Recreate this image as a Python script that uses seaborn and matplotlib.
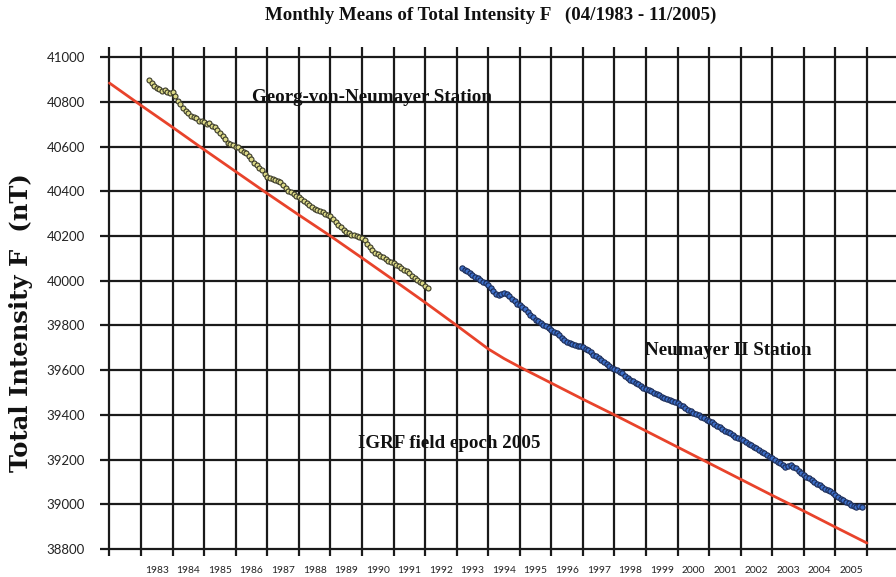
import numpy as np
import pandas as pd
import matplotlib
matplotlib.use("Agg")
import matplotlib.pyplot as plt
import seaborn as sns

# ---------------- data ----------------
# Georg-von-Neumayer Station, monthly means from 04/1983 to 02/1992 (nT)
gvn_start_year, gvn_start_month = 1983, 4
gvn_values = [
    40897, 40884, 40872, 40861, 40856, 40849, 40851, 40843, 40839,                # 1983
    40842, 40824, 40803, 40790, 40771, 40758, 40748, 40735, 40730, 40726, 40716, 40712,  # 1984
    40710, 40703, 40705, 40694, 40688, 40672, 40660, 40648, 40632, 40618, 40610, 40605,  # 1985
    40598, 40596, 40585, 40576, 40570, 40558, 40545, 40528, 40518, 40506, 40495, 40478,  # 1986
    40466, 40460, 40455, 40450, 40446, 40440, 40428, 40414, 40402, 40398, 40386, 40380,  # 1987
    40374, 40365, 40358, 40346, 40338, 40330, 40322, 40318, 40312, 40306, 40300, 40294,  # 1988
    40288, 40276, 40262, 40250, 40238, 40226, 40218, 40212, 40206, 40204, 40198, 40194,  # 1989
    40190, 40180, 40166, 40150, 40136, 40124, 40118, 40110, 40104, 40096, 40090, 40084,  # 1990
    40080, 40072, 40066, 40057, 40048, 40042, 40034, 40022, 40012, 40003, 39996, 39988,  # 1991
    39978, 39967,                                                                  # 1992
]

# Neumayer II Station, monthly means from 03/1993 to 11/2005 (nT)
nm2_start_year, nm2_start_month = 1993, 3
nm2_values = [
    40057, 40050, 40042, 40034, 40025, 40018, 40010, 40004, 39996, 39990,          # 1993
    39980, 39968, 39952, 39940, 39938, 39942, 39945, 39940, 39930, 39918, 39908, 39898,  # 1994
    39891, 39882, 39872, 39860, 39848, 39836, 39824, 39818, 39810, 39802, 39796, 39788,  # 1995
    39780, 39772, 39765, 39756, 39745, 39735, 39726, 39720, 39716, 39712, 39709, 39706,  # 1996
    39704, 39696, 39688, 39680, 39670, 39662, 39654, 39645, 39636, 39628, 39619, 39610,  # 1997
    39605, 39601, 39594, 39586, 39576, 39566, 39556, 39550, 39544, 39536, 39528, 39522,  # 1998
    39516, 39511, 39505, 39500, 39494, 39488, 39482, 39476, 39470, 39466, 39462, 39458,  # 1999
    39452, 39445, 39438, 39431, 39424, 39418, 39410, 39404, 39398, 39391, 39384, 39376,  # 2000
    39372, 39366, 39358, 39352, 39346, 39338, 39330, 39324, 39318, 39310, 39301, 39296,  # 2001
    39292, 39286, 39280, 39272, 39266, 39258, 39250, 39242, 39236, 39228, 39220, 39212,  # 2002
    39205, 39198, 39190, 39185, 39176, 39166, 39170, 39176, 39168, 39163, 39150, 39140,  # 2003
    39132, 39123, 39116, 39108, 39100, 39092, 39085, 39078, 39070, 39064, 39058, 39050,  # 2004
    39040, 39033, 39026, 39018, 39012, 39006, 38998, 38994, 38988, 38992, 38990,   # 2005
]

# IGRF field (epoch 2005) model values
igrf_years = [1982, 1983, 1984, 1985, 1986, 1987, 1988, 1989, 1990, 1991, 1992, 1993,
              1994, 1994.5, 1995, 1996, 1997, 1998, 1999, 2000, 2001, 2002, 2003, 2004,
              2005, 2006]
igrf_values = [40884, 40784, 40686, 40586, 40488, 40390, 40294, 40200, 40102, 40003,
               39903, 39800, 39695, 39652, 39614, 39542, 39470, 39400, 39328, 39256,
               39184, 39112, 39040, 38970, 38898, 38827]

year_labels = list(range(1983, 2006))
grid_years = list(range(1982, 2007))
y_ticks = list(range(38800, 41001, 200))

title = "Monthly Means of Total Intensity F   (04/1983 - 11/2005)"
ylabel = "Total Intensity F  (nT)"


def decimal_years(start_year, start_month, n):
    return [start_year + (start_month - 1 + i) / 12.0 for i in range(n)]


gvn = pd.DataFrame({"year": decimal_years(gvn_start_year, gvn_start_month, len(gvn_values)),
                    "F": gvn_values})
nm2 = pd.DataFrame({"year": decimal_years(nm2_start_year, nm2_start_month, len(nm2_values)),
                    "F": nm2_values})
igrf = pd.DataFrame({"year": igrf_years, "F": igrf_values})

# ---------------- plot ----------------
sns.set_style("white")
plt.rcParams["font.family"] = ["Liberation Serif", "DejaVu Serif"]

fig = plt.figure(figsize=(8.96, 5.77), dpi=100)
ax = fig.add_axes([0.1116, 0.0364, 0.8884, 0.8821])

sns.lineplot(data=igrf, x="year", y="F", ax=ax, color="#e8432b", linewidth=2.0,
             zorder=3, sort=False)
sns.lineplot(data=gvn, x="year", y="F", ax=ax, color="#2b2b22", linewidth=1.0,
             marker="o", markersize=3.6, markerfacecolor="#dcd987",
             markeredgecolor="#3a3a28", markeredgewidth=0.8, zorder=4, sort=False)
sns.lineplot(data=nm2, x="year", y="F", ax=ax, color="#16244a", linewidth=1.2,
             marker="o", markersize=3.8, markerfacecolor="#3d6fc8",
             markeredgecolor="#1b2b55", markeredgewidth=0.8, zorder=4, sort=False)

ax.set_xlim(1981.70, 2006.92)
ax.set_ylim(38769, 41045)

for s in ax.spines.values():
    s.set_visible(False)

ax.set_xticks(grid_years)
ax.set_xticklabels([])
ax.set_xticks([y + 0.5 for y in year_labels], minor=True)
ax.set_xticklabels([str(y) for y in year_labels], minor=True,
                   fontfamily="Lato", fontsize=7.4, color="#222222")
ax.tick_params(axis="x", which="both", length=0, pad=7.5)

ax.set_yticks(y_ticks)
ax.set_yticklabels([str(v) for v in y_ticks], fontfamily="Lato", fontsize=9.5,
                   color="#222222")
ax.tick_params(axis="y", which="both", length=0, pad=11)

ax.grid(True, which="major", color="#1a1a1a", linewidth=1.6)
ax.set_axisbelow(True)
ax.set_xlabel("")
ax.set_ylabel("")

tkw = dict(fontweight="bold", fontsize=13.7, color="#111111", va="center", ha="left",
           zorder=5)
ax.text(1986.52, 40821, "Georg-von-Neumayer Station", **tkw)
ax.text(1998.97, 39690, "Neumayer II Station", **tkw)
ax.text(1989.88, 39270, "IGRF field epoch 2005", **tkw)

fig.text(0.548, 0.974, title, ha="center", va="center", fontweight="bold",
         fontsize=13.6, color="#111111")
fig.text(0.023, 0.44, ylabel, ha="center", va="center", rotation=90,
         fontweight="bold", fontsize=17.5, color="#111111",
         fontfamily=["DejaVu Serif"])

fig.savefig("out.png", dpi=100)
